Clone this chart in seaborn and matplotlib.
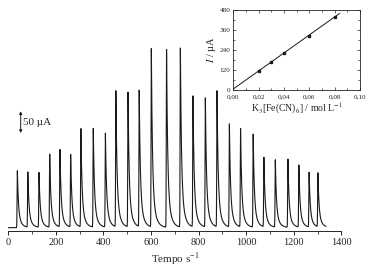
import numpy as np
import pandas as pd
import matplotlib
matplotlib.use("Agg")
import matplotlib.pyplot as plt
from matplotlib.ticker import MultipleLocator, FuncFormatter
import seaborn as sns

peak_times = [38, 82, 129, 174, 217, 262, 305, 357, 408, 452, 503, 550, 601, 665,
              723, 776, 828, 877, 929, 976, 1029, 1074, 1122, 1175, 1221, 1264, 1301]
peak_heights = [131, 127, 126, 168, 178, 167, 226, 227, 216, 313, 310, 314, 410, 409,
                412, 301, 297, 313, 237, 226, 214, 160, 155, 157, 143, 126, 124]
t_end = 1335

# curva analitica (inset)
conc = [0.02, 0.03, 0.04, 0.06, 0.08]
corrente = [116, 166, 224, 326, 440]
erro = [8, 7, 6, 10, 6]
fit_range = [0.0, 0.084]

sns.set_theme(style="ticks")
plt.rcParams["font.family"] = ["Liberation Serif", "DejaVu Serif"]
plt.rcParams["mathtext.fontset"] = "stix"

# monta o sinal FIA a partir dos picos
t = np.arange(0, t_end, 0.2)
sinal = np.zeros_like(t)
for t0, h in zip(peak_times, peak_heights):
    d = t - t0
    dp = np.clip(d, 0, None)
    sub = np.where(d < 0, np.exp(-(d / 1.5) ** 2),
                   0.75 * np.exp(-dp / 4.5) + 0.25 * np.exp(-dp / 14))
    sinal += h * sub
df = pd.DataFrame({"tempo": t, "I": sinal})

fig = plt.figure(figsize=(3.71, 2.76), dpi=100)
ax = fig.add_axes([0.0224, 0.164, 0.898, 0.691])
sns.lineplot(data=df, x="tempo", y="I", ax=ax, estimator=None, color="#1a1a1a", lw=0.8)
ax.set_xlim(0, 1400)
ax.set_ylim(-7, 432)
for s in ["left", "top", "right"]:
    ax.spines[s].set_visible(False)
ax.spines["bottom"].set_linewidth(0.7)
ax.set_yticks([])
ax.set_ylabel("")
ax.xaxis.set_major_locator(MultipleLocator(200))
ax.xaxis.set_minor_locator(MultipleLocator(100))
ax.tick_params(axis="x", which="major", direction="out", length=3, width=0.7, labelsize=7.5, pad=2)
ax.tick_params(axis="x", which="minor", direction="out", length=2, width=0.6)
ax.set_xlabel(r"Tempo s$^{\mathregular{-1}}$", fontsize=8, labelpad=3)

# barra de escala 50 uA
ax.annotate("", xy=(52, 218), xytext=(52, 268),
            arrowprops=dict(arrowstyle="<|-|>", lw=0.7, color="k", mutation_scale=4,
                            shrinkA=0, shrinkB=0))
ax.text(60, 243, "50 µA", fontsize=8, va="center", ha="left")

# inset
ins = fig.add_axes([0.629, 0.674, 0.341, 0.290])
coef = np.polyfit(conc, corrente, 1)
xf = np.array(fit_range)
fit_df = pd.DataFrame({"x": xf, "y": np.polyval(coef, xf)})
sns.lineplot(data=fit_df, x="x", y="y", ax=ins, color="k", lw=0.7)
ins.errorbar(conc, corrente, yerr=erro, fmt="s", ms=1.8, color="k", ecolor="k",
             elinewidth=0.6, capsize=0)
ins.set_xlim(0, 0.10)
ins.set_ylim(0, 480)
ins.xaxis.set_major_locator(MultipleLocator(0.02))
ins.xaxis.set_minor_locator(MultipleLocator(0.01))
ins.yaxis.set_major_locator(MultipleLocator(120))
ins.yaxis.set_minor_locator(MultipleLocator(60))
ins.xaxis.set_major_formatter(FuncFormatter(lambda v, p: f"{v:.2f}".replace(".", ",")))
ins.tick_params(which="both", direction="in", top=True, right=True, width=0.5,
                labelsize=5.2)
ins.tick_params(axis="x", pad=3)
ins.tick_params(axis="y", pad=2)
ins.tick_params(which="major", length=2)
ins.tick_params(which="minor", length=1.2)
for s in ins.spines.values():
    s.set_linewidth(0.6)
ins.set_xlabel(r"K$_3$[Fe(CN)$_6$] / mol L$^{-1}$", fontsize=7, labelpad=1)
ins.set_ylabel(r"$I$ / µA", fontsize=7.5, labelpad=1.5)

fig.savefig("out.png", dpi=100)
